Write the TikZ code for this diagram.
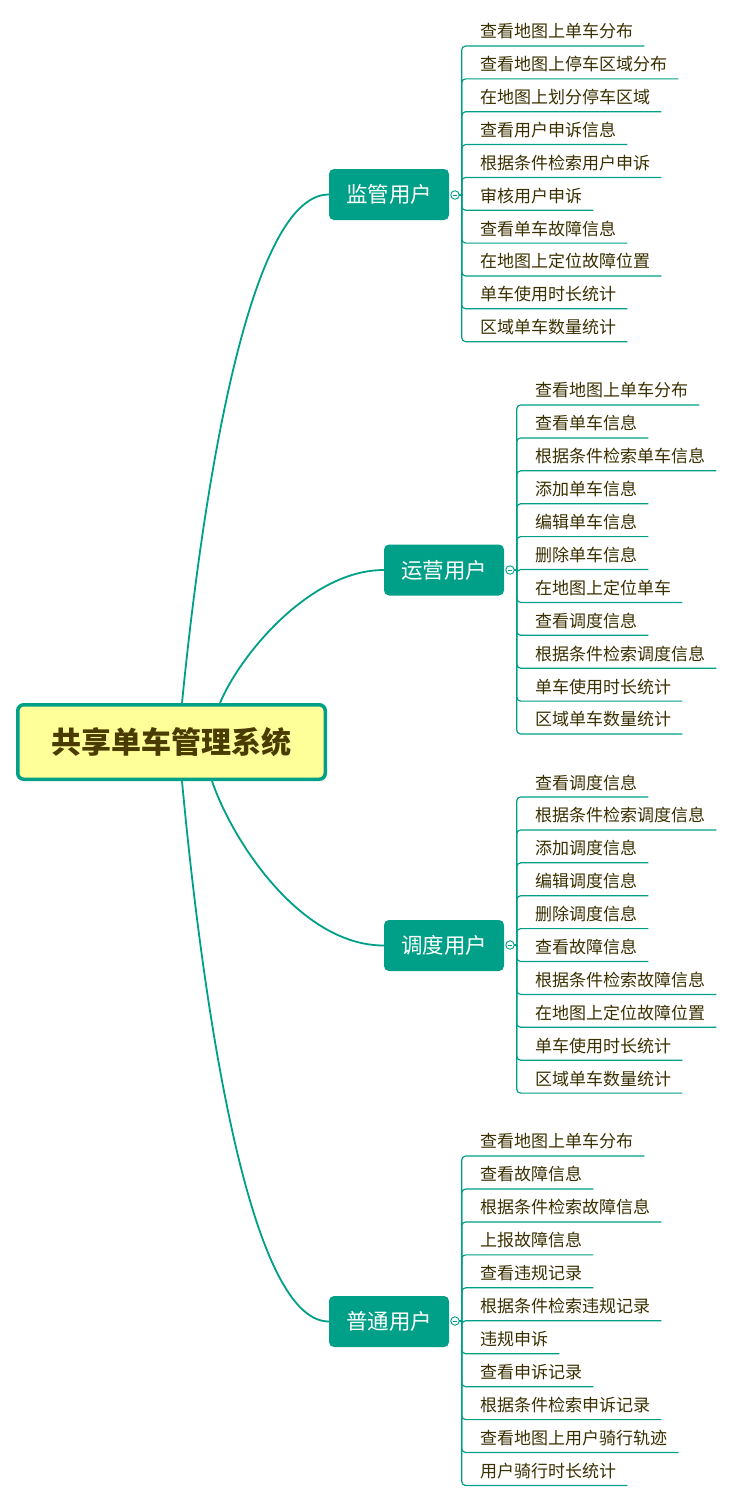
\documentclass[tikz,border=0pt]{standalone}
\usepackage{fontspec}
\setmainfont{Noto Sans CJK SC}
\usetikzlibrary{calc}
\definecolor{teal1}{HTML}{00A088}
\definecolor{rootfill}{HTML}{FFFF99}
\definecolor{roottext}{HTML}{4A3C00}
\definecolor{leaftext}{HTML}{3A2F00}
\pgfdeclarelayer{bg}
\pgfsetlayers{bg,main}
\begin{document}
\begin{tikzpicture}[x=1pt,y=-1pt,
 rootbox/.style={draw=teal1, line width=3.5pt, fill=rootfill, rounded corners=6pt, minimum width=307.5pt, minimum height=74.5pt, inner sep=0pt, font=\fontsize{30}{30}\selectfont\bfseries, text=roottext},
 branch/.style={fill=teal1, rounded corners=5pt, minimum width=120pt, minimum height=51pt, inner sep=0pt, text=white, font=\fontsize{21.5}{22}\selectfont},
 fold/.style={circle, draw=teal1, fill=white, line width=0.9pt, minimum size=8.5pt, inner sep=0pt},
 leaf/.style={anchor=west, inner sep=0pt, text=leaftext, font=\fontsize{17}{17}\selectfont},
 curve/.style={draw=teal1, line width=1.8pt},
 uline/.style={draw=teal1, line width=1.2pt},
]
\useasboundingbox (0,0) rectangle (733,1502);

% main nodes
\node[rootbox] (root) at (171.5,742) {共享单车管理系统};
\node[branch] (b1) at (389,194.5) {监管用户};
\node[branch] (b2) at (444,570) {运营用户};
\node[branch] (b3) at (444,945.5) {调度用户};
\node[branch] (b4) at (389,1321.5) {普通用户};

% curves root -> branches
\begin{pgfonlayer}{bg}
\draw[curve] ($(root.north west)+(166,0)$) .. controls (200,520) and (245,194.5) .. (b1.west);
\draw[curve] ($(root.north west)+(204,0)$) .. controls (240,655) and (310,570) .. (b2.west);
\draw[curve] ($(root.south west)+(196,0)$) .. controls (232,840) and (300,945.5) .. (b3.west);
\draw[curve] ($(root.south west)+(166,0)$) .. controls (200,975) and (245,1321.5) .. (b4.west);
\end{pgfonlayer}

% fold markers
\node[fold] (c1) at (455,195) {};
\node[fold] (c2) at (510,570) {};
\node[fold] (c3) at (510,945) {};
\node[fold] (c4) at (455,1321) {};
\foreach \c in {c1,c2,c3,c4}{
  \draw[teal1, line width=0.8pt] ($(\c)+(-2.3,0)$) -- ($(\c)+(2.3,0)$);
}

% group 1
\foreach \t [count=\i] in {查看地图上单车分布,查看地图上停车区域分布,在地图上划分停车区域,查看用户申诉信息,根据条件检索用户申诉,审核用户申诉,查看单车故障信息,在地图上定位故障位置,单车使用时长统计,区域单车数量统计}{
  \node[leaf] (a\i) at (480,{31.5+32.85*(\i-1)}) {\t};
  \draw[uline] (c1.east) -- ++(2,0) [rounded corners=4pt] |- ($(a\i.east)+(11,14.5)$);
}
% group 2
\foreach \t [count=\i] in {查看地图上单车分布,查看单车信息,根据条件检索单车信息,添加单车信息,编辑单车信息,删除单车信息,在地图上定位单车,查看调度信息,根据条件检索调度信息,单车使用时长统计,区域单车数量统计}{
  \node[leaf] (b\i) at (535,{390.5+32.9*(\i-1)}) {\t};
  \draw[uline] (c2.east) -- ++(2,0) [rounded corners=4pt] |- ($(b\i.east)+(11,14.5)$);
}
% group 3
\foreach \t [count=\i] in {查看调度信息,根据条件检索调度信息,添加调度信息,编辑调度信息,删除调度信息,查看故障信息,根据条件检索故障信息,在地图上定位故障位置,单车使用时长统计,区域单车数量统计}{
  \node[leaf] (d\i) at (535,{782.5+32.9*(\i-1)}) {\t};
  \draw[uline] (c3.east) -- ++(2,0) [rounded corners=4pt] |- ($(d\i.east)+(11,14.5)$);
}
% group 4
\foreach \t [count=\i] in {查看地图上单车分布,查看故障信息,根据条件检索故障信息,上报故障信息,查看违规记录,根据条件检索违规记录,违规申诉,查看申诉记录,根据条件检索申诉记录,查看地图上用户骑行轨迹,用户骑行时长统计}{
  \node[leaf] (e\i) at (480,{1141.5+32.95*(\i-1)}) {\t};
  \draw[uline] (c4.east) -- ++(2,0) [rounded corners=4pt] |- ($(e\i.east)+(11,14.5)$);
}
\end{tikzpicture}
\end{document}
